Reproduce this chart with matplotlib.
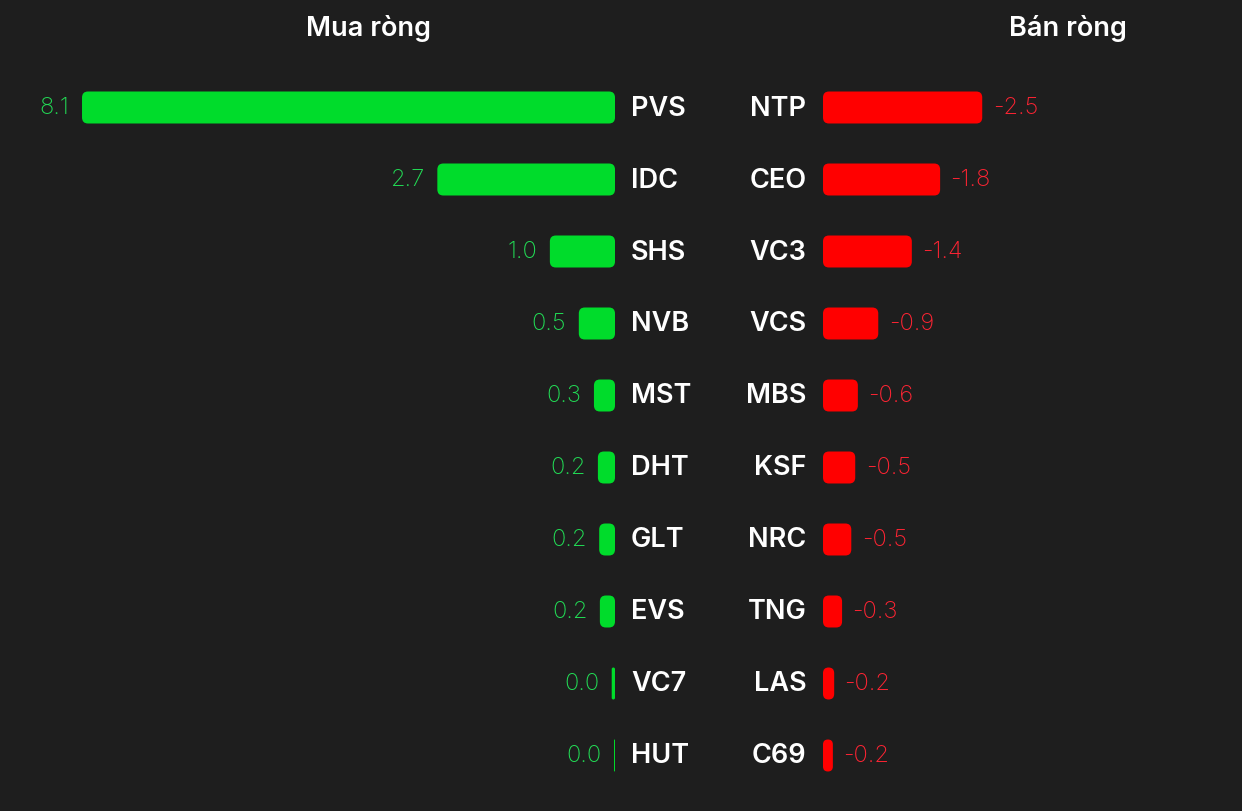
import matplotlib.pyplot as plt
from matplotlib.patches import FancyBboxPatch

# du lieu mua rong / ban rong (ty dong)
buy_tickers = ["PVS", "IDC", "SHS", "NVB", "MST", "DHT", "GLT", "EVS", "VC7", "HUT"]
buy_values = [8.1, 2.7, 0.99, 0.55, 0.32, 0.26, 0.24, 0.23, 0.05, 0.015]
buy_labels = ["8.1", "2.7", "1.0", "0.5", "0.3", "0.2", "0.2", "0.2", "0.0", "0.0"]

sell_tickers = ["NTP", "CEO", "VC3", "VCS", "MBS", "KSF", "NRC", "TNG", "LAS", "C69"]
sell_values = [-2.42, -1.78, -1.35, -0.84, -0.53, -0.49, -0.43, -0.29, -0.17, -0.15]
sell_labels = ["-2.5", "-1.8", "-1.4", "-0.9", "-0.6", "-0.5", "-0.5", "-0.3", "-0.2", "-0.2"]

BG = "#1e1e1e"
GREEN = "#00dc2b"
RED = "#ff0000"
GREEN_TXT = "#22dc55"
RED_TXT = "#ff2433"
FONT = ["Inter", "DejaVu Sans"]

W, H = 1242, 812
PX = 65.8          # pixel tren 1 don vi
ROW = 72           # pixel tren 1 hang
BAR_H = 32 / ROW
RAD_PX = 6

fig = plt.figure(figsize=(W / 100, H / 100), dpi=100, facecolor=BG)

top_px, bot_px = 72.5, 792.5
ax_l = fig.add_axes([0, 1 - bot_px / H, 615 / W, (bot_px - top_px) / H])
ax_r = fig.add_axes([823 / W, 1 - bot_px / H, (W - 823) / W, (bot_px - top_px) / H])
ax_l.set_xlim(615 / PX, 0)
ax_r.set_xlim(0, (W - 823) / PX)

aspect = PX / ROW


def draw_bars(ax, values, color):
    for i, v in enumerate(values):
        w = abs(v)
        r = min(RAD_PX / PX, w / 2, BAR_H / aspect / 2)
        p = FancyBboxPatch((0, i - BAR_H / 2), w, BAR_H,
                           boxstyle=f"round,pad=0,rounding_size={r}",
                           mutation_aspect=aspect, fc=color, ec="none")
        ax.add_patch(p)


for ax in (ax_l, ax_r):
    ax.set_ylim(9.5, -0.5)
    ax.set_facecolor(BG)
    ax.axis("off")

draw_bars(ax_l, buy_values, GREEN)
draw_bars(ax_r, sell_values, RED)

for i, (t, v, lab) in enumerate(zip(buy_tickers, buy_values, buy_labels)):
    ax_l.annotate(t, (0, i), xytext=(11.5, 0), textcoords="offset points",
                  ha="left", va="center", color="white", fontsize=19.5,
                  fontweight="semibold", family=FONT, annotation_clip=False)
    ax_l.annotate(lab, (v, i), xytext=(-9, 0), textcoords="offset points",
                  ha="right", va="center", color=GREEN_TXT, fontsize=17,
                  fontweight="light", family=FONT)

for i, (t, v, lab) in enumerate(zip(sell_tickers, sell_values, sell_labels)):
    ax_r.annotate(t, (0, i), xytext=(-12, 0), textcoords="offset points",
                  ha="right", va="center", color="white", fontsize=19.5,
                  fontweight="semibold", family=FONT, annotation_clip=False)
    ax_r.annotate(lab, (abs(v), i), xytext=(7.5, 0), textcoords="offset points",
                  ha="left", va="center", color=RED_TXT, fontsize=17,
                  fontweight="light", family=FONT)

fig.text(369 / W, 1 - 28 / H, "Mua ròng", ha="center", va="center",
         color="white", fontsize=19.5, fontweight="semibold", family=FONT)
fig.text(1068 / W, 1 - 28 / H, "Bán ròng", ha="center", va="center",
         color="white", fontsize=19.5, fontweight="semibold", family=FONT)

fig.savefig("out.png", dpi=100, facecolor=BG)
